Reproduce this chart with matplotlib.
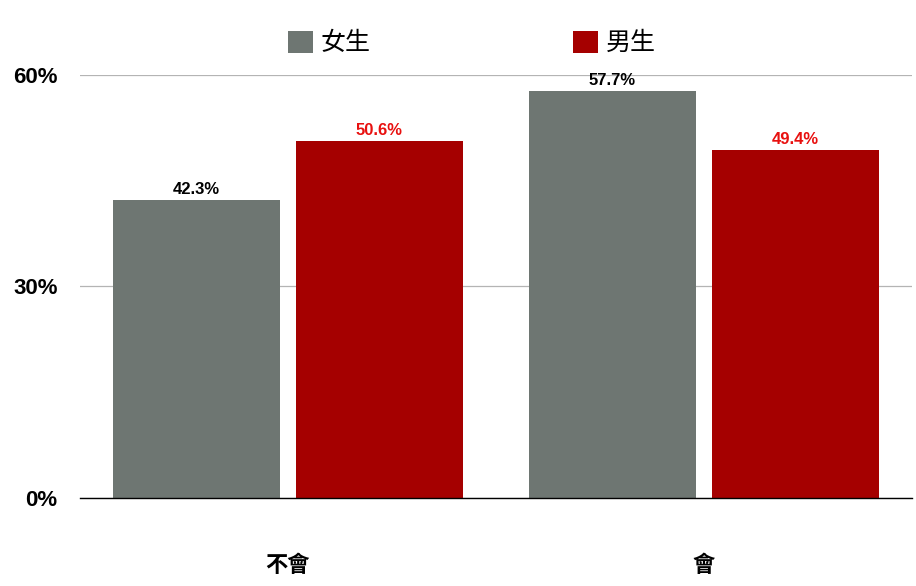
import matplotlib
matplotlib.use("Agg")
import matplotlib.pyplot as plt
import numpy as np

categories = ["不會", "會"]
series_names = ["女生", "男生"]
female = [42.3, 57.7]
male = [50.6, 49.4]
y_ticks = [0, 30, 60]

gray = "#6e7672"
red = "#a50000"
label_red = "#e8100f"
fonts = ["Liberation Sans", "Noto Sans CJK TC", "DejaVu Sans"]
plt.rcParams["font.family"] = fonts

fig = plt.figure(figsize=(9.16, 5.86), dpi=100)
ax = fig.add_axes([0.0873, 0.1502, 0.9083, 0.7218])

x = np.arange(len(categories))
w = 0.40
off = 0.22
b1 = ax.bar(x - off, female, w, color=gray, label=series_names[0], zorder=2)
b2 = ax.bar(x + off, male, w, color=red, label=series_names[1], zorder=2)

for bars, vals, col in [(b1, female, "black"), (b2, male, label_red)]:
    for rect, v in zip(bars, vals):
        ax.annotate(f"{v:.1f}%", (rect.get_x() + rect.get_width() / 2, v),
                    xytext=(0, 2), textcoords="offset points",
                    ha="center", va="bottom", fontsize=12,
                    fontweight="bold", color=col, clip_on=False)

ax.set_xlim(-0.5, 1.5)
ax.set_ylim(0, 60)
ax.set_yticks(y_ticks)
ax.set_yticklabels([f"{t}%" for t in y_ticks], fontsize=16, fontweight="bold")
ax.set_xticks(x)
ax.set_xticklabels(categories, fontsize=16, fontweight="bold",
                   family=["Noto Sans CJK TC", "DejaVu Sans"])
ax.tick_params(axis="y", length=0, pad=16)
ax.tick_params(axis="x", length=0, pad=40)

ax.yaxis.grid(True, color="#b4b4b4", linewidth=0.9, zorder=0)
ax.set_axisbelow(True)
for s in ["top", "right", "left"]:
    ax.spines[s].set_visible(False)
ax.spines["bottom"].set_color("black")
ax.spines["bottom"].set_linewidth(1.0)
ax.spines["bottom"].set_zorder(3)

fig.legend(handles=[b1, b2], labels=series_names, loc="center",
           bbox_to_anchor=(0.515, 0.926), ncol=2, frameon=False,
           prop={"family": ["Noto Sans CJK TC", "DejaVu Sans"], "size": 18,
                 "weight": "medium"},
           handlelength=1.0, handleheight=1.0, handletextpad=0.3,
           columnspacing=8.1)

fig.savefig("out.png", dpi=100)
